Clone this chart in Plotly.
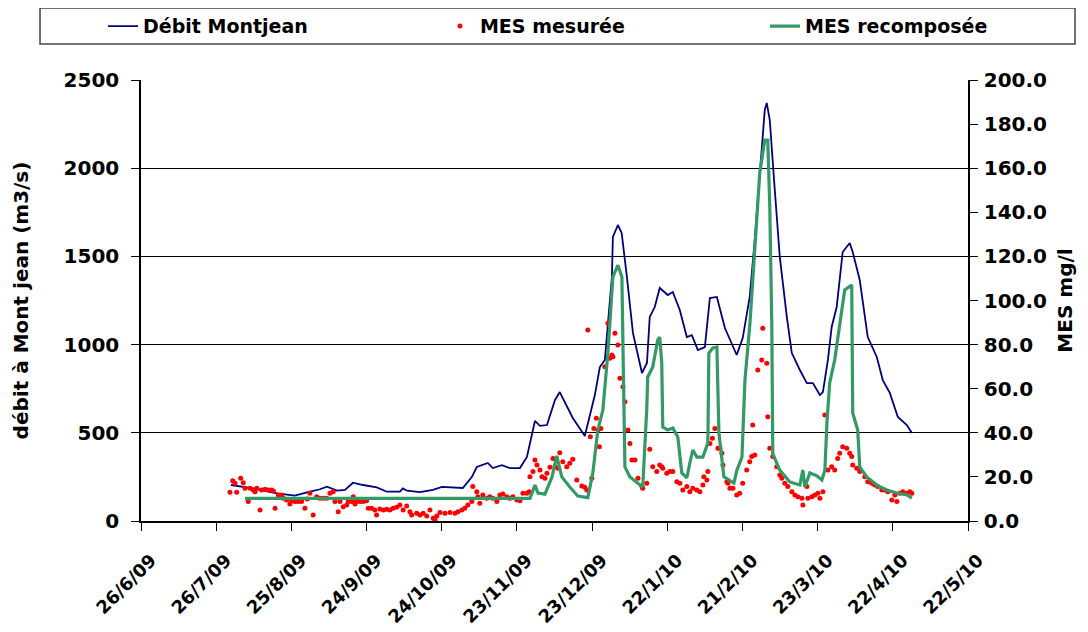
import pandas as pd
import plotly.graph_objects as go

START = pd.Timestamp("2009-06-26")

# ---- Débit Montjean (m3/s), days since 26/6/09 ----
debit_days = [35.9, 44.7, 54.3, 61.4, 67.4, 71.4, 74.2, 78.2, 81.4, 84.6,
              88.6, 94.1, 98.1, 103.3, 104.5, 106.1, 111.3, 116.5, 120.1, 128.4,
              132.0, 134.0, 138.4, 140.4, 144.0, 147.2, 151.2, 154.0, 157.2, 159.2,
              162.0, 165.2, 167.1, 172.3, 177.1, 181.1, 183.1, 185.1, 187.9, 188.3,
              190.3, 191.8, 193.9, 196.3, 199.9, 201.9, 203.0, 205.0, 207.0, 210.2,
              212.2, 215.0, 217.8, 219.8, 222.2, 225.0, 227.0, 229.8, 233.0, 237.7,
              240.1, 242.9, 244.9, 246.9, 248.9, 249.7, 250.9, 252.9, 254.9, 257.7,
              259.7, 262.9, 265.7, 268.1, 270.9, 272.1, 274.1, 275.6, 277.6, 280.0,
              282.8, 284.0, 286.8, 290.0, 293.6, 296.0, 298.8, 302.0, 305.6, 307.6]
debit = [204, 185, 157, 144, 166, 180, 195, 172, 176, 217,
         204, 191, 166, 166, 185, 172, 164, 176, 193, 187,
         249, 306, 329, 300, 317, 300, 300, 363, 567, 539,
         544, 686, 731, 584, 482, 714, 873, 913, 1383, 1610,
         1678, 1633, 1383, 1066, 839, 896, 1156, 1213, 1321, 1281,
         1298, 1196, 1043, 1054, 969, 986, 1264, 1270, 1094, 941,
         1037, 1270, 1593, 1973, 2330, 2370, 2273, 1877, 1497, 1157,
         952, 856, 782, 782, 714, 731, 913, 1100, 1213, 1525,
         1576, 1525, 1366, 1043, 930, 799, 726, 590, 544, 499]

# ---- MES recomposée (mg/l) ----
recomp_days = [41.5, 155.2, 157.2, 158.4, 161.2, 164.0, 165.9, 167.9, 171.1, 174.3,
               178.3, 180.3, 182.3, 184.3, 186.3, 188.3, 190.3, 191.9, 192.3, 193.1,
               195.1, 198.3, 200.2, 201.8, 202.2, 204.2, 206.2, 207.0, 207.8, 208.2,
               210.2, 212.2, 214.2, 215.8, 217.8, 219.0, 220.2, 221.8, 224.2, 226.2,
               226.6, 228.2, 229.8, 230.6, 232.6, 236.6, 237.8, 239.8, 241.0, 243.0,
               245.0, 246.9, 248.9, 250.1, 250.9, 251.7, 252.1, 254.9, 258.9, 262.9,
               264.1, 264.9, 266.9, 269.7, 271.7, 272.9, 273.7, 274.8, 276.8, 278.8,
               280.8, 283.6, 284.0, 286.0, 286.8, 289.6, 293.6, 297.6, 301.6, 305.6,
               307.6]
recomp = [10.3, 10.3, 16.3, 12.7, 12.2, 20.0, 29.5, 20.0, 15.4, 11.3,
          10.6, 21.8, 41.3, 50.3, 76.2, 110.7, 116.0, 110.7, 80.7, 24.5,
          20.0, 17.2, 15.4, 50.3, 65.3, 69.8, 82.1, 83.4, 71.7, 42.6,
          41.3, 42.2, 38.1, 21.8, 19.5, 26.3, 32.2, 29.0, 29.0, 35.4,
          76.2, 78.5, 78.9, 40.0, 20.0, 17.2, 23.1, 29.0, 64.0, 89.8,
          127.4, 157.8, 172.8, 172.8, 142.4, 89.8, 30.4, 23.1, 17.7, 16.3,
          23.1, 15.4, 21.8, 20.5, 18.6, 23.1, 44.4, 62.6, 73.0, 88.0,
          104.8, 107.0, 49.0, 41.3, 24.5, 20.0, 16.3, 14.0, 12.7, 11.8,
          10.4]

# ---- MES mesurée (mg/l) ----
mes_days = [35.5, 36.6, 37.5, 38.2, 39.8, 40.8, 41.5, 42.8, 43.5, 44.8,
            45.5, 46.2, 47.5, 48.1, 49.5, 50.8, 52.1, 52.8, 53.5, 54.8,
            55.4, 56.1, 56.8, 58.1, 59.4, 60.1, 61.4, 62.7, 64.1, 65.4,
            66.3, 67.4, 68.7, 70.1, 71.4, 72.7, 74.1, 75.4, 76.7, 77.4,
            78.7, 79.4, 80.7, 82.1, 82.7, 84.1, 84.7, 85.4, 86.0, 87.4,
            88.7, 90.0, 90.7, 92.0, 93.3, 94.0, 95.3, 96.7, 98.0, 99.3,
            100.6, 102.0, 103.3, 104.6, 106.0, 107.3, 108.0, 110.0, 111.3, 112.6,
            114.0, 115.3, 116.6, 117.3, 118.0, 119.3, 121.3, 123.3, 125.3, 126.5,
            128.0, 129.2, 130.4, 132.0, 132.4, 134.0, 134.4, 135.2, 136.4, 138.0,
            139.2, 140.4, 142.0, 143.2, 144.4, 146.0, 147.2, 148.4, 150.0, 151.2,
            152.4, 154.0, 154.8, 155.2, 156.4, 157.2, 158.0, 159.2, 160.0, 161.2,
            162.0, 163.2, 164.4, 165.2, 166.3, 167.1, 168.3, 169.9, 171.1, 172.3,
            173.9, 175.9, 177.1, 177.9, 178.3, 179.3, 179.9, 180.7, 181.7, 182.3,
            182.9, 183.5, 185.1, 186.3, 187.1, 187.9, 188.3, 189.1, 190.3, 191.1,
            192.3, 193.1, 194.3, 195.1, 195.9, 197.1, 198.3, 199.9, 200.2, 201.8,
            203.0, 204.2, 205.8, 207.0, 207.8, 208.2, 209.8, 211.0, 212.2, 213.8,
            215.0, 216.2, 217.8, 219.0, 220.2, 221.8, 223.0, 224.2, 224.6, 225.8,
            226.2, 227.0, 228.0, 229.0, 230.2, 231.0, 231.8, 232.2, 233.8, 234.2,
            235.0, 236.2, 237.7, 238.9, 240.1, 241.7, 242.9, 243.7, 244.1, 244.9,
            246.1, 247.7, 248.1, 249.7, 250.1, 250.9, 252.1, 253.7, 254.9, 255.7,
            256.9, 258.1, 259.7, 260.9, 262.1, 263.7, 264.1, 265.7, 266.1, 267.7,
            268.9, 270.1, 270.9, 272.1, 272.9, 274.1, 275.6, 276.8, 278.0, 278.8,
            280.0, 281.6, 282.8, 283.6, 284.0, 285.6, 286.8, 288.8, 290.0, 291.6,
            292.8, 294.0, 295.6, 296.8, 298.0, 299.6, 300.8, 301.6, 302.8, 304.0,
            305.6, 306.8, 307.6]
mes = [13.0, 18.3, 17.1, 13.0, 19.4, 17.4, 14.8, 8.8, 14.8, 14.1,
       13.3, 14.8, 5.0, 14.1, 14.4, 14.1, 14.1, 13.6, 5.8, 11.8,
       11.0, 11.8, 10.3, 9.5, 7.7, 9.2, 8.8, 8.8, 8.8, 5.8,
       10.0, 12.6, 2.7, 11.0, 10.3, 10.3, 10.3, 12.6, 13.3, 8.8,
       4.2, 8.8, 6.5, 7.3, 8.8, 8.8, 11.0, 7.7, 8.8, 8.8,
       8.8, 9.2, 5.8, 5.8, 5.0, 2.7, 5.4, 5.0, 5.3, 5.0,
       5.8, 6.2, 7.3, 5.0, 6.8, 4.2, 2.7, 3.5, 2.7, 3.5,
       2.3, 5.0, 1.2, 0.5, 2.3, 3.8, 3.5, 3.8, 3.5, 4.2,
       5.0, 5.8, 7.3, 8.8, 15.6, 13.3, 11.0, 8.0, 11.8, 10.3,
       11.0, 10.3, 8.8, 11.8, 12.2, 11.0, 10.3, 11.0, 9.5, 9.2,
       12.6, 12.6, 13.3, 20.1, 22.4, 27.7, 25.4, 23.1, 20.1, 19.4,
       21.6, 24.4, 28.4, 24.6, 23.9, 31.0, 26.9, 24.6, 26.2, 28.0,
       18.6, 15.9, 15.3, 14.1, 86.6, 38.2, 19.4, 42.0, 46.6, 41.3,
       33.7, 42.0, 70.0, 89.7, 73.8, 75.3, 74.5, 85.1, 79.8, 64.7,
       60.9, 54.1, 41.3, 35.1, 27.7, 27.7, 19.4, 15.6, 14.8, 17.1,
       32.5, 24.6, 22.4, 25.4, 24.6, 23.9, 21.6, 22.4, 22.4, 17.8,
       17.1, 14.1, 15.6, 13.3, 14.8, 14.1, 13.3, 16.3, 20.1, 18.6,
       22.4, 35.2, 37.5, 42.0, 33.0, 33.0, 30.7, 25.4, 17.8, 17.1,
       14.8, 14.8, 11.8, 12.6, 17.1, 23.1, 26.9, 29.2, 43.5, 29.9,
       68.5, 73.0, 87.4, 71.5, 47.3, 33.0, 29.2, 24.6, 20.9, 19.4,
       17.1, 15.6, 13.3, 11.8, 11.0, 10.3, 7.3, 15.6, 10.3, 11.0,
       11.8, 12.6, 10.3, 13.3, 48.1, 23.1, 24.6, 23.1, 28.4, 30.7,
       33.7, 33.0, 30.7, 29.2, 25.4, 23.9, 22.4, 20.1, 17.8, 17.1,
       16.3, 15.6, 14.1, 14.1, 13.3, 9.5, 11.8, 8.8, 12.6, 13.3,
       12.6, 13.3, 12.6]

# ---- x-axis tick dates (every 30 days) ----
tick_days = [0, 30, 60, 90, 120, 150, 180, 210, 240, 270, 300, 330]
tick_labels = ["26/6/09", "26/7/09", "25/8/09", "24/9/09", "24/10/09", "23/11/09",
               "23/12/09", "22/1/10", "21/2/10", "23/3/10", "22/4/10", "22/5/10"]


def to_dates(days):
    return START + pd.to_timedelta(days, unit="D")


FONT = "DejaVu Sans"
LEG_FONT = dict(family=FONT, size=19, color="black", weight="bold")

fig = go.Figure()
fig.add_trace(go.Scatter(
    x=to_dates(debit_days), y=debit, name="Débit Montjean", mode="lines",
    line=dict(color="#000080", width=1.8), yaxis="y", legend="legend"))
fig.add_trace(go.Scatter(
    x=to_dates(mes_days), y=mes, name="MES mesurée", mode="markers",
    marker=dict(color="#FF0000", size=5), yaxis="y2", legend="legend2"))
fig.add_trace(go.Scatter(
    x=to_dates(recomp_days), y=recomp, name="MES recomposée", mode="lines",
    line=dict(color="#339966", width=3.2), yaxis="y2", legend="legend3"))


def leg(x):
    return dict(orientation="h", x=x, y=1.122, xanchor="left", yanchor="middle",
                bgcolor="rgba(0,0,0,0)", borderwidth=0, font=LEG_FONT)


fig.update_layout(
    width=1080, height=624,
    margin=dict(l=133, r=120, t=72, b=111, autoexpand=False),
    paper_bgcolor="white", plot_bgcolor="white",
    font=dict(family=FONT, size=20, color="black", weight="bold"),
    showlegend=True,
    legend=leg(-0.0459),
    legend2=leg(0.3615),
    legend3=leg(0.7545),
    xaxis=dict(type="date", range=[to_dates([0])[0], to_dates([330])[0]],
               tickmode="array", tickvals=list(to_dates(tick_days)), ticktext=tick_labels,
               tickangle=-45, tickfont=dict(size=18),
               ticklabelstandoff=12, ticklabelshift=10,
               showline=True, linecolor="black", linewidth=1.5,
               ticks="outside", ticklen=8, tickcolor="black",
               showgrid=False, zeroline=False),
    yaxis=dict(range=[0, 2500], dtick=500, tickmode="linear",
               showline=True, linecolor="black", linewidth=1.5,
               ticks="outside", ticklen=8, tickcolor="black",
               ticklabelstandoff=8,
               showgrid=True, gridcolor="black", gridwidth=1, zeroline=False,
               title=dict(text="débit à Mont jean (m3/s)", standoff=30,
                          font=dict(size=20))),
    yaxis2=dict(range=[0, 200], dtick=20, tickmode="linear", tickformat=".1f",
                overlaying="y", side="right",
                showline=True, linecolor="black", linewidth=1.5,
                ticks="outside", ticklen=8, tickcolor="black",
                ticklabelstandoff=2,
                showgrid=False, zeroline=False,
                title=dict(text="MES mg/l", standoff=12, font=dict(size=20))),
    shapes=[dict(type="rect", xref="paper", yref="paper",
                 x0=-0.1221, x1=1.1294, y0=1.0816, y1=1.1633,
                 line=dict(color="#444444", width=1.5), fillcolor="rgba(0,0,0,0)")],
)

fig.write_html("out.html")
